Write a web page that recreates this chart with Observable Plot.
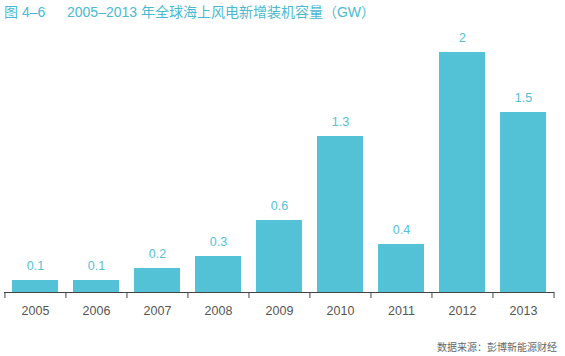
<!DOCTYPE html>
<html><head><meta charset="utf-8">
<script src="https://cdn.jsdelivr.net/npm/d3@7"></script>
<script src="https://cdn.jsdelivr.net/npm/@observablehq/plot@0.6"></script>
<style>
body{margin:0;background:#fff;width:565px;height:356px;overflow:hidden;font-family:"Liberation Sans","Noto Sans CJK SC",sans-serif;}
#title{height:24px;line-height:24px;padding-left:4px;font-size:14px;color:#4bb9d1;font-family:"Liberation Sans","Noto Sans CJK SC",sans-serif;white-space:nowrap;}
#title .n{display:inline-block;width:63px;}
#cap{position:absolute;right:8px;top:339px;font-size:10px;color:#666;font-family:"Noto Sans CJK SC",sans-serif;}
</style></head>
<body>
<div id="title"><span class="n">图 4–6</span>2005–2013 年全球海上风电新增装机容量（GW）</div>
<div id="chart"></div>
<div id="cap">数据来源：彭博新能源财经</div>
<script>
const years = ["2005","2006","2007","2008","2009","2010","2011","2012","2013"];
const values = [0.1, 0.1, 0.2, 0.3, 0.6, 1.3, 0.4, 2, 1.5];
const labels = ["0.1","0.1","0.2","0.3","0.6","1.3","0.4","2","1.5"];
const data = years.map((y, i) => ({year: y, value: values[i], label: labels[i]}));
const color = "#53c1d6";
const W = 565, mL = 4, mR = 11;
const step = (W - mL - mR) / years.length;
const chart = Plot.plot({
  width: W, height: 312,
  marginLeft: mL, marginRight: mR, marginTop: 28, marginBottom: 44,
  style: {fontFamily: '"Liberation Sans", Arial, sans-serif', background: "#fff"},
  x: {domain: years, paddingInner: 0.25, paddingOuter: 0.125, label: null},
  y: {domain: [0, 2], axis: null},
  marks: [
    Plot.barY(data, {x: "year", y: "value", fill: color}),
    Plot.text(data, {x: "year", y: "value", text: "label", dy: -15, fill: color, fontSize: 12.5}),
    Plot.ruleY([0], {stroke: "#444", strokeWidth: 1}),
    Plot.axisX({tickSize: 6, tickFormat: () => "", dx: -step / 2, stroke: "#444"}),
    Plot.axisX({ticks: [years[years.length - 1]], tickSize: 6, tickFormat: () => "", dx: step / 2, stroke: "#444"}),
    Plot.axisX({tickSize: 0, tickPadding: 14, fontSize: 12.5, fill: "#555"})
  ]
});
document.getElementById("chart").appendChild(chart);
</script>
</body></html>
